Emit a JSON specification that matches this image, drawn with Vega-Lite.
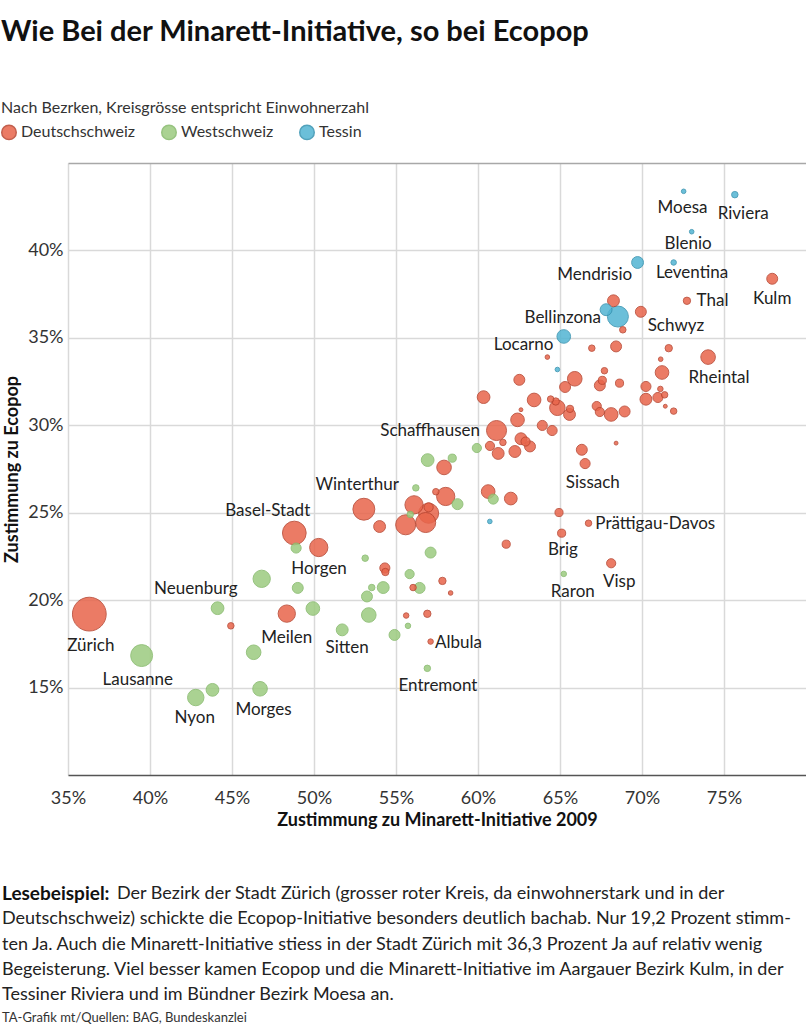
{
  "$schema": "https://vega.github.io/schema/vega-lite/v6.json",
  "padding": {"left": 1, "top": 18, "right": 0, "bottom": 0},
  "background": "white",
  "width": 738,
  "height": 612,
  "title": {
    "text": "Wie Bei der Minarett-Initiative, so bei Ecopop",
    "anchor": "start",
    "frame": "bounds",
    "fontSize": 29,
    "fontWeight": "bold",
    "color": "#111",
    "offset": 53
  },
  "config": {
    "font": "Lato, Roboto, sans-serif",
    "view": {"stroke": null}
  },
  "resolve": {"scale": {"y": "independent"}},
  "datasets": {
    "points": [
      {"name": "Kulm", "region": "Deutschschweiz", "minarett": 77.94, "ecopop": 38.38, "pop": 40},
      {"name": "Thal", "region": "Deutschschweiz", "minarett": 72.74, "ecopop": 37.12, "pop": 18},
      {"name": "", "region": "Deutschschweiz", "minarett": 68.26, "ecopop": 37.12, "pop": 47},
      {"name": "Schwyz", "region": "Deutschschweiz", "minarett": 69.93, "ecopop": 36.49, "pop": 40},
      {"name": "", "region": "Deutschschweiz", "minarett": 68.83, "ecopop": 35.46, "pop": 14},
      {"name": "", "region": "Deutschschweiz", "minarett": 66.94, "ecopop": 34.41, "pop": 14},
      {"name": "", "region": "Deutschschweiz", "minarett": 68.42, "ecopop": 34.51, "pop": 40},
      {"name": "", "region": "Deutschschweiz", "minarett": 71.63, "ecopop": 34.41, "pop": 18},
      {"name": "Rheintal", "region": "Deutschschweiz", "minarett": 74.03, "ecopop": 33.90, "pop": 71},
      {"name": "", "region": "Deutschschweiz", "minarett": 71.14, "ecopop": 33.78, "pop": 7},
      {"name": "", "region": "Deutschschweiz", "minarett": 64.23, "ecopop": 33.90, "pop": 7},
      {"name": "", "region": "Deutschschweiz", "minarett": 71.22, "ecopop": 33.02, "pop": 62},
      {"name": "", "region": "Deutschschweiz", "minarett": 65.90, "ecopop": 32.66, "pop": 71},
      {"name": "", "region": "Deutschschweiz", "minarett": 65.31, "ecopop": 32.19, "pop": 40},
      {"name": "", "region": "Deutschschweiz", "minarett": 67.71, "ecopop": 33.12, "pop": 14},
      {"name": "", "region": "Deutschschweiz", "minarett": 67.58, "ecopop": 32.57, "pop": 22},
      {"name": "", "region": "Deutschschweiz", "minarett": 67.43, "ecopop": 32.28, "pop": 40},
      {"name": "", "region": "Deutschschweiz", "minarett": 68.63, "ecopop": 32.41, "pop": 22},
      {"name": "", "region": "Deutschschweiz", "minarett": 70.24, "ecopop": 32.22, "pop": 34},
      {"name": "", "region": "Deutschschweiz", "minarett": 70.24, "ecopop": 31.49, "pop": 47},
      {"name": "", "region": "Deutschschweiz", "minarett": 71.12, "ecopop": 32.08, "pop": 10},
      {"name": "", "region": "Deutschschweiz", "minarett": 70.97, "ecopop": 31.59, "pop": 34},
      {"name": "", "region": "Deutschschweiz", "minarett": 71.38, "ecopop": 31.74, "pop": 14},
      {"name": "", "region": "Deutschschweiz", "minarett": 71.42, "ecopop": 31.09, "pop": 5},
      {"name": "", "region": "Deutschschweiz", "minarett": 71.93, "ecopop": 30.81, "pop": 14},
      {"name": "", "region": "Deutschschweiz", "minarett": 63.42, "ecopop": 31.45, "pop": 62},
      {"name": "", "region": "Deutschschweiz", "minarett": 64.43, "ecopop": 31.50, "pop": 14},
      {"name": "", "region": "Deutschschweiz", "minarett": 64.74, "ecopop": 31.36, "pop": 18},
      {"name": "", "region": "Deutschschweiz", "minarett": 64.84, "ecopop": 31.00, "pop": 80},
      {"name": "", "region": "Deutschschweiz", "minarett": 65.58, "ecopop": 30.62, "pop": 47},
      {"name": "", "region": "Deutschschweiz", "minarett": 65.61, "ecopop": 30.94, "pop": 18},
      {"name": "", "region": "Deutschschweiz", "minarett": 67.24, "ecopop": 31.10, "pop": 28},
      {"name": "", "region": "Deutschschweiz", "minarett": 67.43, "ecopop": 30.76, "pop": 28},
      {"name": "", "region": "Deutschschweiz", "minarett": 68.12, "ecopop": 30.62, "pop": 62},
      {"name": "", "region": "Deutschschweiz", "minarett": 68.94, "ecopop": 30.79, "pop": 40},
      {"name": "", "region": "Deutschschweiz", "minarett": 63.92, "ecopop": 29.99, "pop": 34},
      {"name": "", "region": "Deutschschweiz", "minarett": 64.52, "ecopop": 29.70, "pop": 34},
      {"name": "", "region": "Deutschschweiz", "minarett": 60.34, "ecopop": 31.61, "pop": 54},
      {"name": "", "region": "Deutschschweiz", "minarett": 62.52, "ecopop": 32.60, "pop": 40},
      {"name": "", "region": "Deutschschweiz", "minarett": 62.62, "ecopop": 30.89, "pop": 5},
      {"name": "", "region": "Deutschschweiz", "minarett": 62.41, "ecopop": 30.31, "pop": 62},
      {"name": "Schaffhausen", "region": "Deutschschweiz", "minarett": 61.13, "ecopop": 29.70, "pop": 134},
      {"name": "", "region": "Deutschschweiz", "minarett": 62.62, "ecopop": 29.23, "pop": 47},
      {"name": "", "region": "Deutschschweiz", "minarett": 62.90, "ecopop": 29.07, "pop": 28},
      {"name": "", "region": "Deutschschweiz", "minarett": 63.17, "ecopop": 28.79, "pop": 40},
      {"name": "", "region": "Deutschschweiz", "minarett": 61.52, "ecopop": 29.02, "pop": 14},
      {"name": "", "region": "Deutschschweiz", "minarett": 60.73, "ecopop": 28.82, "pop": 28},
      {"name": "", "region": "Deutschschweiz", "minarett": 61.23, "ecopop": 28.39, "pop": 47},
      {"name": "", "region": "Deutschschweiz", "minarett": 62.25, "ecopop": 28.50, "pop": 47},
      {"name": "", "region": "Deutschschweiz", "minarett": 68.42, "ecopop": 28.98, "pop": 5},
      {"name": "", "region": "Deutschschweiz", "minarett": 66.33, "ecopop": 28.60, "pop": 40},
      {"name": "Sissach", "region": "Deutschschweiz", "minarett": 66.53, "ecopop": 27.81, "pop": 34},
      {"name": "", "region": "Deutschschweiz", "minarett": 57.93, "ecopop": 27.59, "pop": 71},
      {"name": "", "region": "Deutschschweiz", "minarett": 57.43, "ecopop": 26.20, "pop": 14},
      {"name": "", "region": "Deutschschweiz", "minarett": 58.03, "ecopop": 25.93, "pop": 111},
      {"name": "", "region": "Deutschschweiz", "minarett": 56.10, "ecopop": 25.45, "pop": 111},
      {"name": "", "region": "Deutschschweiz", "minarett": 56.99, "ecopop": 25.31, "pop": 28},
      {"name": "", "region": "Deutschschweiz", "minarett": 56.99, "ecopop": 24.97, "pop": 134},
      {"name": "", "region": "Deutschschweiz", "minarett": 55.59, "ecopop": 24.31, "pop": 134},
      {"name": "", "region": "Deutschschweiz", "minarett": 56.81, "ecopop": 24.44, "pop": 134},
      {"name": "", "region": "Deutschschweiz", "minarett": 54.00, "ecopop": 24.21, "pop": 47},
      {"name": "Winterthur", "region": "Deutschschweiz", "minarett": 53.04, "ecopop": 25.20, "pop": 160},
      {"name": "", "region": "Deutschschweiz", "minarett": 60.62, "ecopop": 26.21, "pop": 62},
      {"name": "", "region": "Deutschschweiz", "minarett": 62.00, "ecopop": 25.81, "pop": 54},
      {"name": "", "region": "Deutschschweiz", "minarett": 64.94, "ecopop": 25.01, "pop": 22},
      {"name": "Prättigau-Davos", "region": "Deutschschweiz", "minarett": 66.74, "ecopop": 24.40, "pop": 14},
      {"name": "Brig", "region": "Deutschschweiz", "minarett": 65.10, "ecopop": 23.83, "pop": 22},
      {"name": "", "region": "Deutschschweiz", "minarett": 61.72, "ecopop": 23.20, "pop": 22},
      {"name": "Visp", "region": "Deutschschweiz", "minarett": 68.12, "ecopop": 22.11, "pop": 28},
      {"name": "Basel-Stadt", "region": "Deutschschweiz", "minarett": 48.80, "ecopop": 23.84, "pop": 187},
      {"name": "Horgen", "region": "Deutschschweiz", "minarett": 50.29, "ecopop": 23.01, "pop": 111},
      {"name": "", "region": "Deutschschweiz", "minarett": 54.32, "ecopop": 21.84, "pop": 34},
      {"name": "", "region": "Deutschschweiz", "minarett": 54.35, "ecopop": 21.61, "pop": 18},
      {"name": "", "region": "Deutschschweiz", "minarett": 56.04, "ecopop": 20.72, "pop": 14},
      {"name": "", "region": "Deutschschweiz", "minarett": 57.83, "ecopop": 21.10, "pop": 18},
      {"name": "", "region": "Deutschschweiz", "minarett": 58.33, "ecopop": 20.41, "pop": 7},
      {"name": "Meilen", "region": "Deutschschweiz", "minarett": 48.34, "ecopop": 19.23, "pop": 100},
      {"name": "", "region": "Deutschschweiz", "minarett": 55.62, "ecopop": 19.12, "pop": 10},
      {"name": "", "region": "Deutschschweiz", "minarett": 56.91, "ecopop": 19.22, "pop": 18},
      {"name": "Albula", "region": "Deutschschweiz", "minarett": 57.11, "ecopop": 17.63, "pop": 10},
      {"name": "", "region": "Deutschschweiz", "minarett": 44.93, "ecopop": 18.53, "pop": 14},
      {"name": "Zürich", "region": "Deutschschweiz", "minarett": 36.3, "ecopop": 19.2, "pop": 380},
      {"name": "", "region": "Westschweiz", "minarett": 59.93, "ecopop": 28.70, "pop": 28},
      {"name": "", "region": "Westschweiz", "minarett": 56.93, "ecopop": 28.01, "pop": 54},
      {"name": "", "region": "Westschweiz", "minarett": 58.43, "ecopop": 28.12, "pop": 22},
      {"name": "", "region": "Westschweiz", "minarett": 56.21, "ecopop": 26.42, "pop": 14},
      {"name": "", "region": "Westschweiz", "minarett": 58.75, "ecopop": 25.49, "pop": 40},
      {"name": "", "region": "Westschweiz", "minarett": 60.93, "ecopop": 25.78, "pop": 34},
      {"name": "", "region": "Westschweiz", "minarett": 55.87, "ecopop": 24.90, "pop": 14},
      {"name": "", "region": "Westschweiz", "minarett": 57.11, "ecopop": 22.72, "pop": 40},
      {"name": "", "region": "Westschweiz", "minarett": 53.12, "ecopop": 22.40, "pop": 14},
      {"name": "", "region": "Westschweiz", "minarett": 48.91, "ecopop": 22.98, "pop": 34},
      {"name": "", "region": "Westschweiz", "minarett": 46.81, "ecopop": 21.22, "pop": 100},
      {"name": "", "region": "Westschweiz", "minarett": 49.01, "ecopop": 20.70, "pop": 40},
      {"name": "", "region": "Westschweiz", "minarett": 55.83, "ecopop": 21.49, "pop": 28},
      {"name": "", "region": "Westschweiz", "minarett": 56.44, "ecopop": 20.70, "pop": 40},
      {"name": "", "region": "Westschweiz", "minarett": 53.52, "ecopop": 20.72, "pop": 14},
      {"name": "", "region": "Westschweiz", "minarett": 54.22, "ecopop": 20.72, "pop": 47},
      {"name": "", "region": "Westschweiz", "minarett": 53.23, "ecopop": 20.21, "pop": 40},
      {"name": "", "region": "Westschweiz", "minarett": 49.93, "ecopop": 19.52, "pop": 62},
      {"name": "", "region": "Westschweiz", "minarett": 53.34, "ecopop": 19.15, "pop": 71},
      {"name": "", "region": "Westschweiz", "minarett": 55.73, "ecopop": 18.53, "pop": 10},
      {"name": "Sitten", "region": "Westschweiz", "minarett": 51.72, "ecopop": 18.30, "pop": 47},
      {"name": "", "region": "Westschweiz", "minarett": 54.91, "ecopop": 18.01, "pop": 40},
      {"name": "Entremont", "region": "Westschweiz", "minarett": 56.91, "ecopop": 16.10, "pop": 14},
      {"name": "Raron", "region": "Westschweiz", "minarett": 65.23, "ecopop": 21.50, "pop": 10},
      {"name": "Neuenburg", "region": "Westschweiz", "minarett": 44.12, "ecopop": 19.54, "pop": 54},
      {"name": "", "region": "Westschweiz", "minarett": 46.32, "ecopop": 17.02, "pop": 71},
      {"name": "Lausanne", "region": "Westschweiz", "minarett": 39.49, "ecopop": 16.83, "pop": 160},
      {"name": "", "region": "Westschweiz", "minarett": 43.81, "ecopop": 14.87, "pop": 54},
      {"name": "Nyon", "region": "Westschweiz", "minarett": 42.79, "ecopop": 14.43, "pop": 90},
      {"name": "Morges", "region": "Westschweiz", "minarett": 46.71, "ecopop": 14.93, "pop": 71},
      {"name": "Moesa", "region": "Tessin", "minarett": 72.54, "ecopop": 43.38, "pop": 7},
      {"name": "Riviera", "region": "Tessin", "minarett": 75.66, "ecopop": 43.19, "pop": 14},
      {"name": "Blenio", "region": "Tessin", "minarett": 73.03, "ecopop": 41.07, "pop": 7},
      {"name": "Mendrisio", "region": "Tessin", "minarett": 69.73, "ecopop": 39.31, "pop": 47},
      {"name": "Leventina", "region": "Tessin", "minarett": 71.93, "ecopop": 39.31, "pop": 10},
      {"name": "Bellinzona", "region": "Tessin", "minarett": 67.81, "ecopop": 36.61, "pop": 47},
      {"name": "", "region": "Tessin", "minarett": 68.53, "ecopop": 36.22, "pop": 147},
      {"name": "Locarno", "region": "Tessin", "minarett": 65.23, "ecopop": 35.08, "pop": 62},
      {"name": "", "region": "Tessin", "minarett": 64.84, "ecopop": 33.19, "pop": 7},
      {"name": "", "region": "Tessin", "minarett": 60.72, "ecopop": 24.50, "pop": 7}
    ],
    "labels": [
      {"label": "Moesa", "lx": 72.47, "ly": 42.42},
      {"label": "Riviera", "lx": 76.17, "ly": 42.08},
      {"label": "Blenio", "lx": 72.81, "ly": 40.38},
      {"label": "Mendrisio", "lx": 67.12, "ly": 38.57},
      {"label": "Leventina", "lx": 73.05, "ly": 38.70},
      {"label": "Thal", "lx": 74.30, "ly": 37.08},
      {"label": "Kulm", "lx": 77.94, "ly": 37.24},
      {"label": "Bellinzona", "lx": 65.17, "ly": 36.13},
      {"label": "Schwyz", "lx": 72.07, "ly": 35.65},
      {"label": "Locarno", "lx": 62.78, "ly": 34.61},
      {"label": "Rheintal", "lx": 74.70, "ly": 32.69},
      {"label": "Schaffhausen", "lx": 57.08, "ly": 29.70},
      {"label": "Sissach", "lx": 67.00, "ly": 26.70},
      {"label": "Winterthur", "lx": 52.63, "ly": 26.60},
      {"label": "Basel-Stadt", "lx": 47.18, "ly": 25.07},
      {"label": "Prättigau-Davos", "lx": 70.81, "ly": 24.34},
      {"label": "Brig", "lx": 65.18, "ly": 22.84},
      {"label": "Horgen", "lx": 50.31, "ly": 21.79},
      {"label": "Visp", "lx": 68.61, "ly": 21.06},
      {"label": "Raron", "lx": 65.78, "ly": 20.45},
      {"label": "Neuenburg", "lx": 42.79, "ly": 20.65},
      {"label": "Zürich", "lx": 36.39, "ly": 17.35},
      {"label": "Meilen", "lx": 48.34, "ly": 17.82},
      {"label": "Sitten", "lx": 52.02, "ly": 17.29},
      {"label": "Albula", "lx": 58.81, "ly": 17.57},
      {"label": "Lausanne", "lx": 39.25, "ly": 15.44},
      {"label": "Entremont", "lx": 57.56, "ly": 15.10},
      {"label": "Morges", "lx": 46.92, "ly": 13.72},
      {"label": "Nyon", "lx": 42.73, "ly": 13.28}
    ],
    "para": [
      {"line": 1, "text": "Der Bezirk der Stadt Zürich (grosser roter Kreis, da einwohnerstark und in der"},
      {"line": 2, "text": "Deutschschweiz) schickte die Ecopop-Initiative besonders deutlich bachab. Nur 19,2 Prozent stimm-"},
      {"line": 3, "text": "ten Ja. Auch die Minarett-Initiative stiess in der Stadt Zürich mit 36,3 Prozent Ja auf relativ wenig"},
      {"line": 4, "text": "Begeisterung. Viel besser kamen Ecopop und die Minarett-Initiative im Aargauer Bezirk Kulm, in der"},
      {"line": 5, "text": "Tessiner Riviera und im Bündner Bezirk Moesa an."}
    ],
    "lead": [{"line": 1, "text": "Lesebeispiel:"}],
    "source": [{"line": 6, "text": "TA-Grafik mt/Quellen: BAG, Bundeskanzlei"}]
  },
  "layer": [
    {
      "data": {"name": "points"},
      "mark": {"type": "circle", "opacity": 0.85, "strokeWidth": 1},
      "encoding": {
        "x": {
          "field": "minarett", "type": "quantitative",
          "title": "Zustimmung zu Minarett-Initiative 2009",
          "scale": {"domain": [35, 80], "nice": false, "zero": false},
          "axis": {
            "values": [35, 40, 45, 50, 55, 60, 65, 70, 75],
            "labelExpr": "datum.value + '%'",
            "labelFlush": false,
            "grid": true, "gridColor": "#d9d9d9", "gridWidth": 1.5,
            "domainColor": "#555", "domainWidth": 1.5,
            "ticks": false, "tickSize": 0,
            "labelPadding": 14, "labelFontSize": 18, "labelColor": "#333",
            "titleFontSize": 18, "titleFontWeight": "bold", "titleColor": "#111", "titlePadding": 4
          }
        },
        "y": {
          "field": "ecopop", "type": "quantitative",
          "title": "Zustimmung zu Ecopop",
          "scale": {"domain": [10, 45], "nice": false, "zero": false},
          "axis": {
            "values": [15, 20, 25, 30, 35, 40, 45],
            "labelExpr": "datum.value == 45 ? '' : datum.value + '%'",
            "labelFlush": false,
            "grid": true,
            "gridColor": {"condition": {"test": "datum.value === 45", "value": "#a8a8a8"}, "value": "#d9d9d9"},
            "gridWidth": 1.5,
            "domain": false, "ticks": false, "tickSize": 0,
            "labelPadding": 5, "labelFontSize": 18, "labelColor": "#333",
            "titleFontSize": 18, "titleFontWeight": "bold", "titleColor": "#111", "titlePadding": 6
          }
        },
        "color": {
          "field": "region", "type": "nominal",
          "scale": {"domain": ["Deutschschweiz", "Westschweiz", "Tessin"], "range": ["#e8654b", "#9ccb7f", "#52b5d3"]},
          "legend": {
            "title": "Nach Bezrken, Kreisgrösse entspricht Einwohnerzahl",
            "orient": "none", "legendX": -67, "legendY": -63,
            "direction": "horizontal", "columns": 3,
            "titleFontSize": 16, "titleFontWeight": "normal", "titleColor": "#333", "titlePadding": 8, "titleLimit": 1000,
            "labelFontSize": 16, "labelColor": "#333", "labelOffset": 4, "labelLimit": 400,
            "symbolType": "circle", "symbolSize": 210, "symbolOpacity": 0.85,
            "columnPadding": 22
          }
        },
        "stroke": {
          "field": "region", "type": "nominal",
          "scale": {"domain": ["Deutschschweiz", "Westschweiz", "Tessin"], "range": ["#b8442f", "#85b96a", "#3592b0"]},
          "legend": null
        },
        "size": {
          "field": "pop", "type": "quantitative",
          "scale": {"type": "linear", "domain": [0, 400], "range": [0, 1200]},
          "legend": null
        },
        "order": {"field": "pop", "sort": "descending"}
      }
    },
    {
      "data": {"name": "labels"},
      "mark": {"type": "text", "fontSize": 17, "color": "#222", "align": "center", "baseline": "middle"},
      "encoding": {
        "x": {"field": "lx", "type": "quantitative"},
        "y": {"field": "ly", "type": "quantitative", "scale": {"domain": [10, 45], "nice": false, "zero": false}, "axis": null},
        "text": {"field": "label"}
      }
    },
    {
      "data": {"name": "lead"},
      "mark": {"type": "text", "fontSize": 19, "fontWeight": "bold", "color": "#111", "align": "left", "baseline": "middle"},
      "encoding": {
        "x": {"value": -66},
        "y": {"field": "line", "type": "quantitative", "scale": {"domain": [1, 6], "range": [730.7, 857.7]}, "axis": null},
        "text": {"field": "text"}
      }
    },
    {
      "data": {"name": "para"},
      "transform": [{"filter": "datum.line === 1"}],
      "mark": {"type": "text", "fontSize": 18, "color": "#222", "align": "left", "baseline": "middle", "dx": 115},
      "encoding": {
        "x": {"value": -66},
        "y": {"field": "line", "type": "quantitative", "scale": {"domain": [1, 6], "range": [730.7, 857.7]}, "axis": null},
        "text": {"field": "text"}
      }
    },
    {
      "data": {"name": "para"},
      "transform": [{"filter": "datum.line > 1"}],
      "mark": {"type": "text", "fontSize": 18, "color": "#222", "align": "left", "baseline": "middle"},
      "encoding": {
        "x": {"value": -66},
        "y": {"field": "line", "type": "quantitative", "scale": {"domain": [1, 6], "range": [730.7, 857.7]}, "axis": null},
        "text": {"field": "text"}
      }
    },
    {
      "data": {"name": "source"},
      "mark": {"type": "text", "fontSize": 13, "color": "#333", "align": "left", "baseline": "middle", "dy": -3},
      "encoding": {
        "x": {"value": -66},
        "y": {"field": "line", "type": "quantitative", "scale": {"domain": [1, 6], "range": [730.7, 857.7]}, "axis": null},
        "text": {"field": "text"}
      }
    }
  ]
}
